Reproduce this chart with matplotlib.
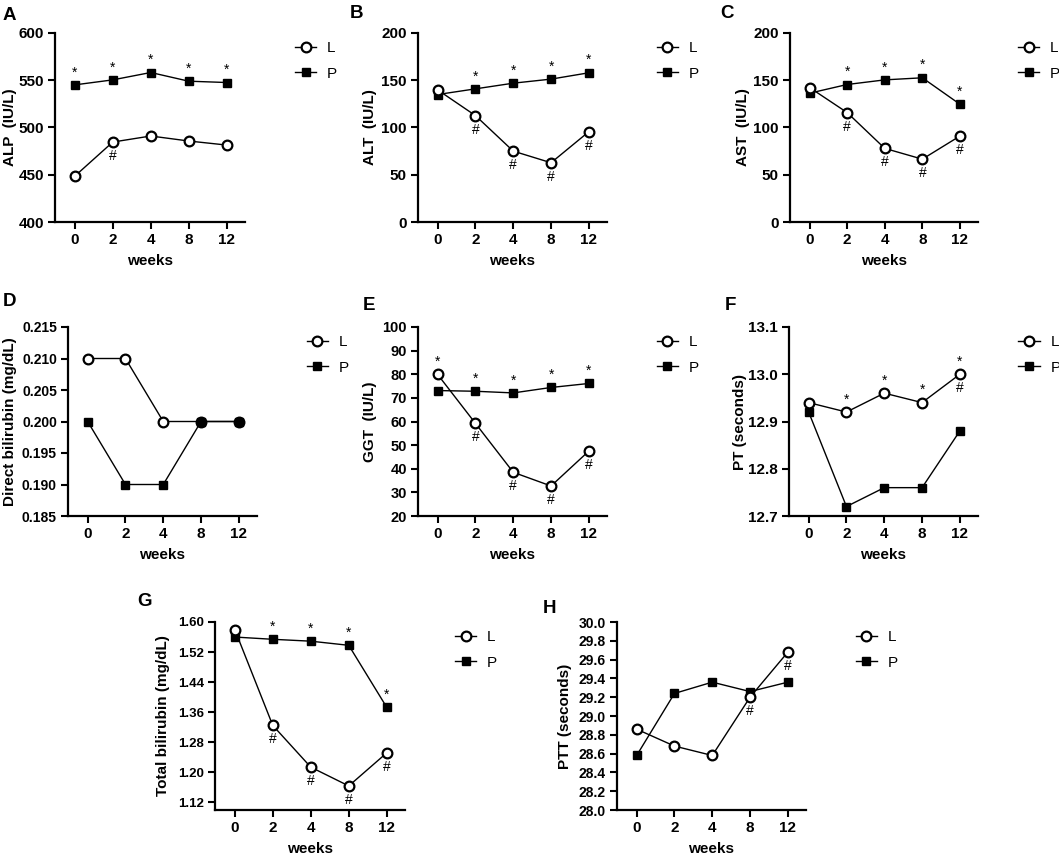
import matplotlib
matplotlib.use("Agg")
import matplotlib.pyplot as plt
import numpy as np

plt.rcParams['font.family'] = ['Liberation Sans', 'DejaVu Sans']

weeks = ['0', '2', '4', '8', '12']

alp_L = [448.5, 484.6, 491.0, 485.7, 481.4]
alp_P = [545.1, 550.4, 558.2, 549.0, 547.6]
alt_L = [139.8, 112.6, 75.0, 62.7, 95.6]
alt_P = [134.9, 140.9, 146.9, 151.2, 157.9]
ast_L = [142.3, 115.8, 77.9, 66.5, 91.0]
ast_P = [136.3, 145.5, 150.4, 152.6, 124.6]
dbil_L = [0.210, 0.210, 0.200, 0.200, 0.200]
dbil_P = [0.200, 0.190, 0.190, 0.200, 0.200]
ggt_L = [79.9, 59.2, 38.5, 32.7, 47.5]
ggt_P = [73.1, 72.8, 72.1, 74.4, 76.1]
pt_L = [12.94, 12.92, 12.96, 12.94, 13.00]
pt_P = [12.92, 12.72, 12.76, 12.76, 12.88]
tbil_L = [1.580, 1.325, 1.214, 1.164, 1.252]
tbil_P = [1.560, 1.554, 1.549, 1.538, 1.373]
ptt_L = [28.86, 28.68, 28.58, 29.20, 29.68]
ptt_P = [28.58, 29.24, 29.36, 29.26, 29.36]

# (letter, ylabel, L, P, ylim, yticks, fmt, stars on P, stars on L, hashes on L)
panels = [
    ('A', 'ALP  (IU/L)', alp_L, alp_P, (400, 600), np.arange(400, 601, 50), '{:.0f}',
     [0, 1, 2, 3, 4], [], [1]),
    ('B', 'ALT  (IU/L)', alt_L, alt_P, (0, 200), np.arange(0, 201, 50), '{:.0f}',
     [1, 2, 3, 4], [], [1, 2, 3, 4]),
    ('C', 'AST  (IU/L)', ast_L, ast_P, (0, 200), np.arange(0, 201, 50), '{:.0f}',
     [1, 2, 3, 4], [], [1, 2, 3, 4]),
    ('D', 'Direct bilirubin (mg/dL)', dbil_L, dbil_P, (0.185, 0.215),
     np.linspace(0.185, 0.215, 7), '{:.3f}', [], [], []),
    ('E', 'GGT  (IU/L)', ggt_L, ggt_P, (20, 100), np.arange(20, 101, 10), '{:.0f}',
     [1, 2, 3, 4], [0], [1, 2, 3, 4]),
    ('F', 'PT (seconds)', pt_L, pt_P, (12.7, 13.1), np.linspace(12.7, 13.1, 5), '{:.1f}',
     [], [1, 2, 3, 4], [4]),
    ('G', 'Total bilirubin (mg/dL)', tbil_L, tbil_P, (1.10, 1.60),
     np.linspace(1.12, 1.60, 7), '{:.2f}', [1, 2, 3, 4], [], [1, 2, 3, 4]),
    ('H', 'PTT (seconds)', ptt_L, ptt_P, (28.0, 30.0), np.linspace(28.0, 30.0, 11), '{:.1f}',
     [], [], [3, 4]),
]

W, H = 1059, 859
# axes boxes in pixels: left, right, top, bottom
boxes = [
    (55, 245, 33, 222), (418, 607, 33, 222), (790, 978, 33, 222),
    (68, 257, 327, 516), (418, 607, 327, 516), (789, 978, 327, 516),
    (215, 405, 622, 810), (617, 806, 622, 810),
]
letter_pos = [(3, 7), (350, 5), (720, 5), (3, 293), (363, 297), (725, 297), (137, 593), (543, 600)]
ytick_sizes = [11, 11, 11, 10, 10.5, 11, 9.5, 10]
ylabel_x = [-0.20, -0.217, -0.213, -0.27, -0.217, -0.222, -0.237, -0.238]
legend_x = [1.19, 1.19, 1.14, 1.19, 1.19, 1.14, 1.19, 1.19]

fig = plt.figure(figsize=(W / 100, H / 100), dpi=100)

for k, ((letter, ylabel, yl, yp, ylim, yticks, fmt, star_p, star_l, hash_l), (l, r, t, b)) in enumerate(zip(panels, boxes)):
    ax = fig.add_axes([l / W, 1 - b / H, (r - l) / W, (b - t) / H])
    x = np.arange(len(weeks))
    ax.plot(x, yl, '-', color='black', lw=1.0, marker='o', ms=7, mfc='white',
            mec='black', mew=1.6, label='L', zorder=3)
    ax.plot(x, yp, '-', color='black', lw=1.0, marker='s', ms=6, mfc='black',
            mec='black', label='P', zorder=4 if letter == 'D' else 2)

    for i in star_p:
        ax.annotate('*', (x[i], yp[i]), xytext=(0, 4), textcoords='offset points',
                    ha='center', va='bottom', fontsize=10)
    for i in star_l:
        ax.annotate('*', (x[i], yl[i]), xytext=(0, 4), textcoords='offset points',
                    ha='center', va='bottom', fontsize=10)
    for i in hash_l:
        ax.annotate('#', (x[i], yl[i]), xytext=(0, -5), textcoords='offset points',
                    ha='center', va='top', fontsize=10)

    ax.set_xlim(-0.52, 4.48)
    ax.set_ylim(*ylim)
    ax.set_xticks(x)
    ax.set_xticklabels(weeks, fontweight='bold', fontsize=11)
    ax.set_yticks(yticks)
    ax.set_yticklabels([fmt.format(v) for v in yticks], fontweight='bold',
                       fontsize=ytick_sizes[k])
    ax.tick_params(direction='out', length=5, width=1.5, pad=3)
    for s in ['top', 'right']:
        ax.spines[s].set_visible(False)
    for s in ['left', 'bottom']:
        ax.spines[s].set_linewidth(1.6)
    ax.set_xlabel('weeks', fontweight='bold', fontsize=11, labelpad=5)
    ax.set_ylabel(ylabel, fontweight='bold', fontsize=11)
    ax.yaxis.set_label_coords(ylabel_x[k], 0.5)

    ax.legend(loc='upper left', bbox_to_anchor=(legend_x[k], 1.03), frameon=False,
              fontsize=11, handlelength=1.4, handletextpad=0.7, labelspacing=0.75)

    lx, ly = letter_pos[k]
    fig.text(lx / W, 1 - ly / H, letter, fontsize=13.5, fontweight='bold',
             ha='left', va='top')

fig.savefig('out.png', dpi=100)
